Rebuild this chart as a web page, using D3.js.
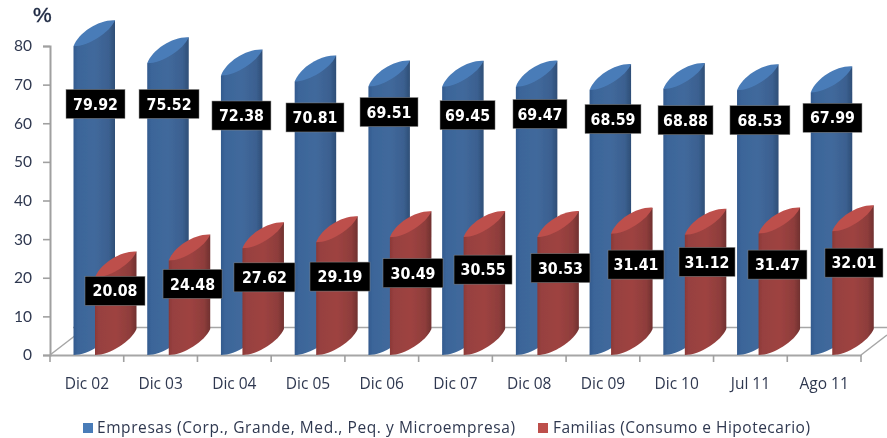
<!DOCTYPE html>
<html><head><meta charset="utf-8">
<style>html,body{margin:0;padding:0;background:#fff;overflow:hidden}svg{display:block}text{font-family:"Open Sans",sans-serif}</style>
<script src="https://cdn.jsdelivr.net/npm/d3@7/dist/d3.min.js"></script>
</head><body><svg id="c" width="887" height="438"></svg>
<script>
const categories = ["Dic 02","Dic 03","Dic 04","Dic 05","Dic 06","Dic 07","Dic 08","Dic 09","Dic 10","Jul 11","Ago 11"];
const empresas = [79.92,75.52,72.38,70.81,69.51,69.45,69.47,68.59,68.88,68.53,67.99];
const familias = [20.08,24.48,27.62,29.19,30.49,30.55,30.53,31.41,31.12,31.47,32.01];
const seriesNames = ["Empresas (Corp., Grande, Med., Peq. y Microempresa)","Familias (Consumo e Hipotecario)"];
const yTicks = [0,10,20,30,40,50,60,70,80];
// where the data labels were placed by hand in the original, on the value axis
const empLabelLevel = [65,65,62,61.5,62.9,62.1,62.4,61.1,60.8,60.8,61.4];
const famLabelLevel = [16.6,18.4,20.1,20.3,21.2,22.1,22.5,23.4,24.1,23.4,23.9];
const empLabelDx = [45.5,45.3,44,43.8,44.1,48.9,47.6,46.9,45.7,46.4,45.2];
const famLabelDx = [65,68.8,67,68.8,68.1,64.4,68.1,69.9,67.2,63.9,66.7];
const empLabelW = [59,60,59,58,58,55,54,56,55,60,59];
const famLabelW = [60,59,61,60,60,58,59,56,56,59,58];

const svg = d3.select("#c");
const defs = svg.append("defs");
defs.append("filter").attr("id","soft").attr("x","-2%").attr("y","-2%").attr("width","104%").attr("height","104%")
  .append("feGaussianBlur").attr("stdDeviation",0.5);
function grad(id, stops){
  const g = defs.append("linearGradient").attr("id",id);
  stops.forEach(s=>g.append("stop").attr("offset",s[0]).attr("stop-color",s[1]));
}
grad("gBlue",[[0,"#335a8e"],[.1,"#3b6599"],[.5,"#41699c"],[.85,"#3b6090"],[1,"#2e4e76"]]);
grad("gRed",[[0,"#8c3836"],[.1,"#974140"],[.5,"#9e4341"],[.85,"#8e3d3b"],[1,"#703130"]]);

const root = svg.append("g").attr("filter","url(#soft)");
const x = d3.scaleBand().domain(categories).range([50,861]);
const y = d3.scaleLinear().domain([0,80]).range([355,46]);
const sub = d3.scalePoint().domain(["E","F"]).range([23.5,45]);
const W = 41.5, D = 26;

// floor
const floor = root.append("g").attr("fill","none").attr("stroke","#a6a6a6").attr("stroke-width",1.5);
floor.append("line").attr("x1",73).attr("y1",327.5).attr("x2",887).attr("y2",327.5);
floor.append("line").attr("x1",50).attr("y1",355).attr("x2",85).attr("y2",328);
floor.append("line").attr("x1",861).attr("y1",355).attr("x2",887).attr("y2",335);

// y axis
const yAxis = root.append("g").attr("transform","translate(50,0)")
  .call(d3.axisLeft(y).tickValues(yTicks).tickSize(7).tickPadding(11));
yAxis.select(".domain").attr("stroke","#a0a0a0").attr("stroke-width",2);
yAxis.selectAll(".tick line").attr("stroke","#a0a0a0").attr("stroke-width",1.6);
yAxis.selectAll("text").attr("fill","#2f3850").style("font-size","15.5px").style("font-family","Lato,sans-serif");

// x axis
const xAxis = root.append("g").attr("transform","translate(0,355)")
  .call(d3.axisBottom(x).tickSize(0).tickPadding(23));
xAxis.select(".domain").attr("stroke","#a6a6a6").attr("stroke-width",1.8);
xAxis.selectAll("text").attr("fill","#2f3850").style("font-size","15.5px").style("font-family","Open Sans,sans-serif");
xAxis.selectAll(".edge").data(d3.range(categories.length+1)).enter().append("line").attr("class","edge")
  .attr("x1",i=>x.range()[0]+i*x.step()).attr("x2",i=>x.range()[0]+i*x.step())
  .attr("y1",0).attr("y2",7).attr("stroke","#a0a0a0").attr("stroke-width",1.6);

// slanted-cylinder bars
function lens(x0,yb){ // near-left to far-right, lower edge
  return `C${x0+15},${yb} ${x0+W-5},${yb-D+12} ${x0+W},${yb-D}`;
}
function body(x0,yt){
  const yb = y(0);
  return `M${x0},${yt}L${x0},${yb}${lens(x0,yb)}L${x0+W},${yt-D}Z`;
}
function cap(x0,yt){
  return `M${x0},${yt}C${x0+5},${yt-14} ${x0+26},${yt-D-1} ${x0+W},${yt-D}C${x0+W-5},${yt-D+12} ${x0+15},${yt} ${x0},${yt}Z`;
}
categories.forEach((c,i)=>{
  [["E",empresas[i],"gBlue","#4a7cb8"],["F",familias[i],"gRed","#bd4f4c"]].forEach(([k,v,g,top])=>{
    const x0 = x(c)+sub(k), yt = y(v);
    const b = root.append("g").datum(v);
    b.append("path").attr("d",body(x0,yt)).attr("fill",`url(#${g})`);
    b.append("path").attr("d",cap(x0,yt)).attr("fill",top);
  });
});

// data labels
function labels(vals, levels, dxs, ws){
  const g = root.selectAll(null).data(vals).enter().append("g")
    .attr("transform",(d,i)=>`translate(${x(categories[i])+dxs[i]},${y(levels[i])})`);
  g.append("rect").attr("x",(d,i)=>-ws[i]/2).attr("y",-14.5).attr("width",(d,i)=>ws[i]).attr("height",29)
    .attr("fill","#000").attr("stroke","#8a8a8a").attr("stroke-width",.5);
  g.append("text").attr("text-anchor","middle").attr("dy","0.36em").attr("fill","#fff")
    .attr("textLength",45).attr("lengthAdjust","spacingAndGlyphs")
    .style("font-family","DejaVu Sans,sans-serif").style("font-weight","bold").style("font-size","15.5px")
    .text(d=>d.toFixed(2));
}
labels(empresas,empLabelLevel,empLabelDx,empLabelW);
labels(familias,famLabelLevel,famLabelDx,famLabelW);

// unit
root.append("text").attr("x",33).attr("y",22).attr("fill","#1c2740").attr("stroke","#1c2740").attr("stroke-width",.4)
  .style("font-family","Liberation Sans,sans-serif").style("font-size","21px").text("%");

// legend
const legend = [[83,97,418,"#4a7cb8"],[538,553,257,"#bd4f4c"]];
legend.forEach((l,i)=>{
  root.append("rect").attr("x",l[0]).attr("y",423).attr("width",10).attr("height",10).attr("fill",l[3]);
  root.append("text").attr("x",l[1]).attr("y",433).attr("fill","#2f3850")
    .attr("textLength",l[2]).attr("lengthAdjust","spacing")
    .style("font-size","15.5px").text(seriesNames[i]);
});
</script></body></html>
